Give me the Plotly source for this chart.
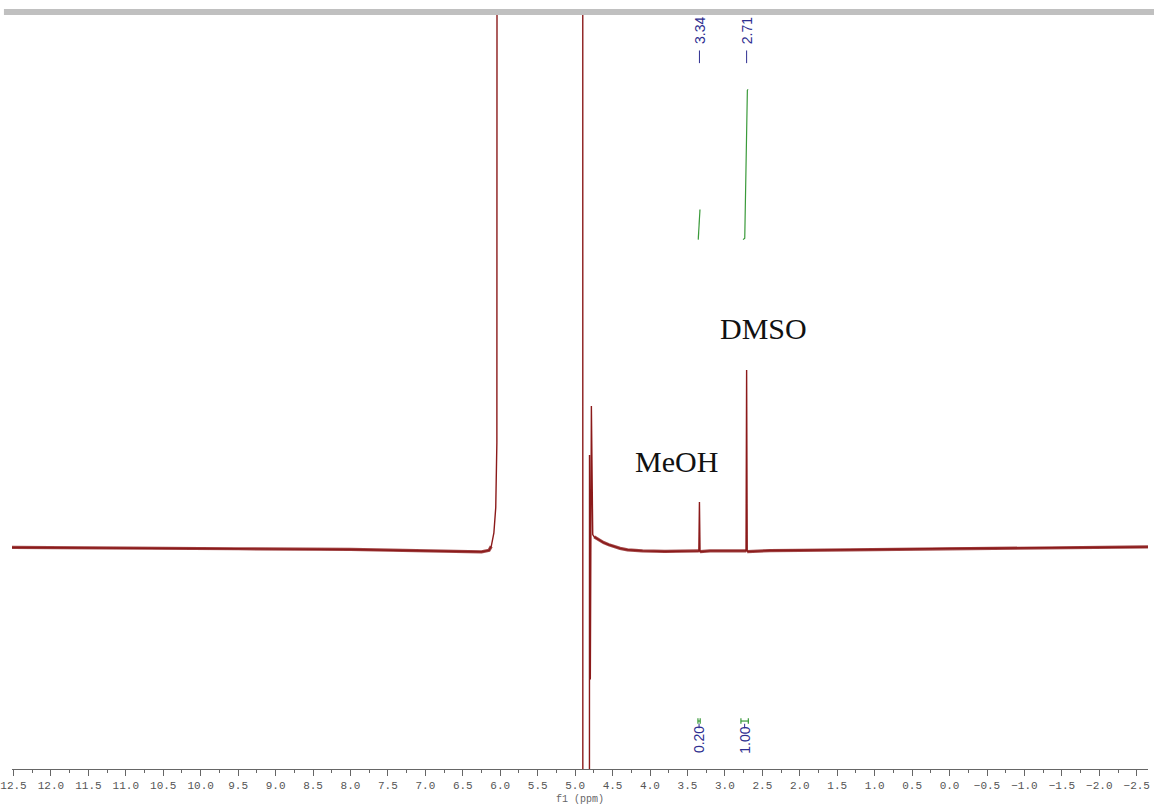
import plotly.graph_objects as go

# 1H NMR trace: baseline and broad solvent region, intensity scaled so that DMSO = 100
base_ppm = [12.52, 11.0, 9.5, 8.0, 7.0, 6.5, 6.25, 6.15, 6.12, 6.085, 6.06, 6.045, 6.035,
            5.5, 4.93, 4.90, 4.895, 4.85, 4.815, 4.808, 4.797, 4.783, 4.772, 4.765, 4.745,
            4.72, 4.68, 4.62, 4.55, 4.48, 4.40, 4.30, 4.20, 4.1, 3.8, 3.5, 3.2, 3.0,
            2.4, 2.0, 1.0, 0.0, -1.0, -2.0, -2.65]
base_int = [1.9, 1.7, 1.2, 0.8, 0.3, -0.3, -0.5, 0.3, 2.5, 10, 24, 60, 1500,
            1500, 1500, 1500, -1500, -1500, -1500, 53, -71, 80, 12, 9, 7.7,
            7.0, 6.0, 4.6, 3.4, 2.3, 1.4, 0.6, 0.2, 0.0, -0.3, -0.2, 0.0, 0.0,
            0.2, 0.3, 0.8, 1.3, 1.7, 2.0, 2.2]

# picked peaks
peak_ppm = [3.34, 2.71]
peak_height = [27, 100]
peak_names = ["MeOH", "DMSO"]

# integrals
int_values = [0.20, 1.00]
int_from = [3.36, 2.786]
int_to = [3.33, 2.687]
int_curve_ppm = [[3.356, 3.333], [2.757, 2.745, 2.735, 2.700, 2.690]]
int_curve_frac = [[0.0, 1.0], [0.0, 0.004, 0.01, 0.995, 1.0]]
INT_BASE = 172.0
INT_SCALE = 83.0

RED = "#8b1a1a"
GREEN = "#3a9a3a"
BLUE = "#2e2e90"

# assemble the spectrum: baseline points plus narrow peak triplets
pts = list(zip(base_ppm, base_int))
for p, h in zip(peak_ppm, peak_height):
    pts += [(p + 0.008, 0.0), (p, h), (p - 0.008, -0.4)]
pts.sort(key=lambda t: -t[0])
xs = [p for p, _ in pts]
ys = [v for _, v in pts]

# noise band along the flat baseline segments
bx, by = [], []
for p, v in pts:
    if abs(v) <= 8:
        bx.append(p)
        by.append(v)
    elif bx and bx[-1] is not None:
        bx.append(None)
        by.append(None)

fig = go.Figure()
fig.add_trace(go.Scatter(x=bx, y=by, mode="lines",
                         line=dict(color="rgba(139,26,26,0.8)", width=3.2),
                         hoverinfo="skip", showlegend=False))
fig.add_trace(go.Scatter(x=xs, y=ys, mode="lines",
                         line=dict(color=RED, width=1.4),
                         showlegend=False))

# integral curves
for cp, cf, val in zip(int_curve_ppm, int_curve_frac, int_values):
    fig.add_trace(go.Scatter(x=cp, y=[INT_BASE + f * val * INT_SCALE for f in cf],
                             mode="lines", line=dict(color=GREEN, width=1.2),
                             showlegend=False))

shapes = []
annotations = []

# integral brackets and values
BR_Y = -94.0
for a, b, val in zip(int_from, int_to, int_values):
    mid = (a + b) / 2
    shapes += [
        dict(type="line", xref="x", yref="y", x0=a, x1=b, y0=BR_Y, y1=BR_Y,
             line=dict(color=GREEN, width=1.2)),
        dict(type="line", xref="x", yref="y", x0=a, x1=a, y0=BR_Y - 1.5, y1=BR_Y + 1.5,
             line=dict(color=GREEN, width=1.2)),
        dict(type="line", xref="x", yref="y", x0=b, x1=b, y0=BR_Y - 1.5, y1=BR_Y + 1.5,
             line=dict(color=GREEN, width=1.2)),
        dict(type="line", xref="x", yref="y", x0=mid, x1=mid, y0=BR_Y - 1.5, y1=BR_Y - 4.0,
             line=dict(color=BLUE, width=1)),
    ]
    annotations.append(dict(x=mid, y=-104.5, xref="x", yref="y", text=f"{val:.2f}",
                            textangle=-90, showarrow=False, xanchor="center", yanchor="middle",
                            font=dict(family="Liberation Sans", size=14, color=BLUE)))

# peak labels along the top
for p in peak_ppm:
    annotations.append(dict(x=p, y=287.5, xref="x", yref="y", text=f"{p:.2f}",
                            textangle=-90, showarrow=False, xanchor="center", yanchor="middle",
                            font=dict(family="Liberation Sans", size=14, color=BLUE)))
    shapes.append(dict(type="line", xref="x", yref="y", x0=p, x1=p, y0=276.5, y1=269.5,
                       line=dict(color=BLUE, width=1)))

# solvent names
name_pos = [(3.64, 49.5), (2.49, 123.0)]
for name, (nx, ny) in zip(peak_names, name_pos):
    annotations.append(dict(x=nx, y=ny, xref="x", yref="y", text=name, showarrow=False,
                            xanchor="center", yanchor="middle",
                            font=dict(family="Liberation Serif", size=30, color="#111")))

# grey frame strip along the top edge
shapes.append(dict(type="rect", xref="paper", yref="paper", x0=-0.0071, x1=1.006,
                   y0=1.0, y1=1.008, line=dict(width=0), fillcolor="#c0c0c0"))

fig.update_layout(
    width=1154, height=805,
    margin=dict(l=12, r=6, t=15, b=36, autoexpand=False),
    paper_bgcolor="white", plot_bgcolor="white",
    shapes=shapes, annotations=annotations,
    showlegend=False,
    xaxis=dict(range=[12.52, -2.65], tick0=0, dtick=0.5, tickformat=".1f",
               automargin=False,
               showgrid=False, zeroline=False, showline=True,
               linecolor="#666", linewidth=1,
               ticks="outside", ticklen=6, tickcolor="#666", tickwidth=1,
               minor=dict(dtick=0.25, ticks="outside", ticklen=3, tickcolor="#666"),
               ticklabeloverflow="allow",
               tickfont=dict(family="Liberation Mono", size=11, color="#555"),
               title=dict(text="f1 (ppm)", standoff=4,
                          font=dict(family="Liberation Mono", size=10, color="#666"))),
    yaxis=dict(range=[-120.5, 296.1], visible=False, showgrid=False, zeroline=False,
               automargin=False),
)

fig.write_html("out.html", config={"displayModeBar": False})
